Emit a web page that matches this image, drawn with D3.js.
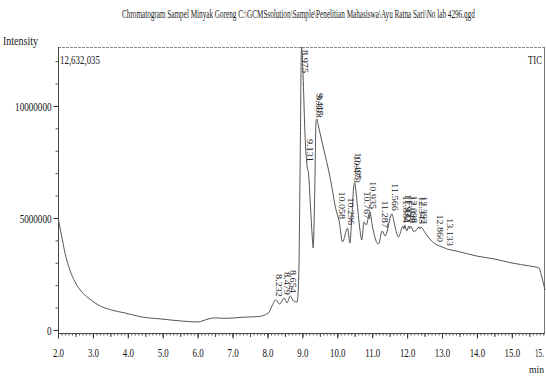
<!DOCTYPE html>
<html>
<head>
<meta charset="utf-8">
<script src="https://cdn.jsdelivr.net/npm/d3@7"></script>
<style>
  body { margin: 0; background: #fff; }
  svg { display: block; }
</style>
</head>
<body>
<div id="chart"></div>
<script>
// Chromatogram data (time in min, intensity in counts)
const titleText = "Chromatogram Sampel  Minyak Goreng C:\\GCMSsolution\\Sample\\Penelitian Mahasiswa\\Ayu Ratna Sari\\No lab 4296.qgd";
const yAxisTitle = "Intensity";
const maxLabel = "12,632,035";
const traceLabel = "TIC";
const xAxisUnit = "min";
const yMax = 12632035;

const retentionTimes = [
  2.00, 2.11, 2.20, 2.34, 2.49, 2.68, 2.87, 3.15, 3.54, 3.92, 4.40, 4.97, 5.54, 6.01, 6.30, 6.50, 6.81, 7.30, 7.73, 8.02, 8.13,
  8.232, 8.35, 8.479, 8.56, 8.654, 8.75, 8.85, 8.90, 8.94, 8.975, 9.02, 9.07, 9.131, 9.18, 9.23, 9.28, 9.31,
  9.35, 9.393, 9.415, 9.46, 9.55, 9.65, 9.75, 9.85, 9.95, 10.058, 10.15, 10.296, 10.36, 10.42, 10.473, 10.495,
  10.56, 10.65, 10.70, 10.767, 10.83, 10.935, 11.00, 11.10, 11.18, 11.287, 11.37, 11.566, 11.65, 11.75,
  11.884, 11.91, 11.932, 11.99, 12.048, 12.07, 12.098, 12.20, 12.343, 12.36, 12.392, 12.50, 12.65, 12.86,
  13.00, 13.133, 13.40, 14.00, 14.50, 15.00, 15.50, 15.78, 15.85, 15.95
];
const intensities = [
  5000000, 4150000, 3440000, 2680000, 2140000, 1700000, 1430000, 1120000, 890000, 760000, 580000, 490000, 400000, 360000, 490000, 540000, 520000, 570000, 600000, 750000, 1070000,
  1340000, 1160000, 1430000, 1210000, 1520000, 1290000, 1250000, 2680000, 8040000, 12632035, 11380000, 8930000, 7370000, 6920000, 5580000, 4240000, 3660000,
  5800000, 9330000, 9420000, 9110000, 8480000, 7810000, 7140000, 6340000, 5450000, 4820000, 3930000, 4550000, 3880000, 5130000, 6430000, 6560000,
  5800000, 4460000, 4020000, 4820000, 4690000, 5270000, 4690000, 4020000, 3840000, 4420000, 4200000, 5180000, 4640000, 4150000,
  4640000, 4510000, 4690000, 4420000, 4640000, 4510000, 4640000, 4380000, 4600000, 4510000, 4600000, 4380000, 4060000, 3790000,
  3710000, 3620000, 3530000, 3300000, 3170000, 2990000, 2860000, 2770000, 2410000, 1790000
];
const peakLabels = [
  "8.232", "8.479", "8.654", "8.975", "9.131", "9.393", "9.415", "10.058", "10.296", "10.473", "10.495",
  "10.767", "10.935", "11.287", "11.566", "11.884", "11.932", "12.048", "12.098", "12.343", "12.392",
  "12.860", "13.133"
];
const xTickLabels = ["2.0", "3.0", "4.0", "5.0", "6.0", "7.0", "8.0", "9.0", "10.0", "11.0", "12.0", "13.0", "14.0", "15.0"];
const xEndLabel = "15.";
const yTickValues = [0, 5000000, 10000000];

const width = 546;
const height = 376;
const plot = { left: 58, right: 545, top: 47, bottom: 333 };
const serif = "'Liberation Serif', 'DejaVu Serif', serif";

const svg = d3.select("#chart")
  .append("svg")
  .attr("width", width)
  .attr("height", height);

// narrow print font of the scan: squeeze text horizontally with a transform
const squeeze = (sel, k) => sel.each(function() {
  const t = d3.select(this);
  t.attr("transform", `${t.attr("transform") || ""} scale(${k},1)`);
});

// free text squeezed to a target width
const label = (str, px, py, size, targetWidth, anchor = "start") => {
  const t = svg.append("text")
    .attr("text-anchor", anchor)
    .attr("font-family", serif)
    .attr("font-size", size)
    .attr("fill", "#1a1a1a")
    .text(str);
  const w = t.node().getComputedTextLength();
  t.attr("transform", `translate(${px},${py}) scale(${targetWidth / w},1)`);
  return t;
};

const x = d3.scaleLinear().domain([2, 15.95]).range([plot.left, plot.right]);
const y = d3.scaleLinear().domain([0, yMax]).range([330, plot.top]);

// Title and corner texts
label(titleText, 122, 18, 13, 353);
label(yAxisTitle, 3, 45, 12, 35);
label(maxLabel, 60, 64, 12, 40);
label(traceLabel, 542, 64, 12, 14, "end");

// Frame
const frame = svg.append("g").attr("stroke", "#444").attr("stroke-width", 1).attr("fill", "none");
frame.append("line")
  .attr("x1", plot.left).attr("x2", plot.right)
  .attr("y1", plot.top + 0.5).attr("y2", plot.top + 0.5)
  .attr("stroke", "#888").attr("stroke-dasharray", "3,1");
frame.append("line")
  .attr("x1", plot.left + 0.5).attr("x2", plot.left + 0.5)
  .attr("y1", plot.top).attr("y2", plot.bottom);
frame.append("line")
  .attr("x1", plot.right - 0.5).attr("x2", plot.right - 0.5)
  .attr("y1", plot.top).attr("y2", plot.bottom)
  .attr("stroke", "#777");
frame.append("line")
  .attr("x1", plot.left).attr("x2", plot.right)
  .attr("y1", plot.bottom + 0.5).attr("y2", plot.bottom + 0.5);

// X axis: minor ticks every 0.1 min, majors every 1 min
const xAxisG = svg.append("g").attr("transform", `translate(0,${plot.bottom + 0.5})`);
const minorTimes = d3.range(20, 160).map(d => d / 10);
xAxisG.append("g")
  .call(d3.axisBottom(x).tickValues(minorTimes).tickSize(2).tickFormat("").tickSizeOuter(0))
  .call(g => g.select(".domain").remove())
  .call(g => g.selectAll("line").attr("stroke", "#555"));
xAxisG.append("g")
  .call(d3.axisBottom(x).tickValues(minorTimes.filter(d => Math.round(d * 10) % 5 === 0)).tickSize(3.5).tickFormat("").tickSizeOuter(0))
  .call(g => g.select(".domain").remove())
  .call(g => g.selectAll("line").attr("stroke", "#444"));
const xMajor = xAxisG.append("g")
  .call(d3.axisBottom(x)
    .tickValues(xTickLabels.map(Number))
    .tickFormat((d, i) => xTickLabels[i])
    .tickSize(5)
    .tickPadding(9)
    .tickSizeOuter(0))
  .call(g => g.select(".domain").remove())
  .call(g => g.selectAll("line").attr("stroke", "#333"));
xMajor.attr("font-family", serif).attr("font-size", 13);
xMajor.selectAll("text").attr("fill", "#111").call(squeeze, 0.68);

label(xEndLabel, 544, 357, 13, 9, "end");
label(xAxisUnit, 544, 373, 11, 15, "end");

// Y axis: minor ticks every 1,000,000, labels at 0 / 5M / 10M
const yAxisG = svg.append("g").attr("transform", `translate(${plot.left + 0.5},0)`);
yAxisG.append("g")
  .call(d3.axisLeft(y).tickValues(d3.range(0, yMax, 1000000)).tickSize(3).tickFormat("").tickSizeOuter(0))
  .call(g => g.select(".domain").remove())
  .call(g => g.selectAll("line").attr("stroke", "#555"));
const yMajor = yAxisG.append("g")
  .call(d3.axisLeft(y).tickValues(yTickValues).tickFormat(d3.format("d")).tickSize(5).tickPadding(2).tickSizeOuter(0))
  .call(g => g.select(".domain").remove())
  .call(g => g.selectAll("line").attr("stroke", "#333"));
yMajor.attr("font-family", serif).attr("font-size", 13);
yMajor.selectAll("text")
  .attr("fill", "#111")
  .attr("x", -7 / 0.7)
  .call(squeeze, 0.7);

// Chromatogram trace
const points = retentionTimes.map((t, i) => [t, intensities[i]]);
const line = d3.line()
  .x(d => x(d[0]))
  .y(d => y(d[1]))
  .curve(d3.curveMonotoneX);

svg.append("path")
  .datum(points)
  .attr("fill", "none")
  .attr("stroke", "#555")
  .attr("stroke-width", 1)
  .attr("d", line);

// Peak retention-time labels, vertical, sitting on the peak
const bisect = d3.bisector(d => d[0]).left;
const valueAt = t => {
  const i = Math.min(Math.max(bisect(points, t), 1), points.length - 1);
  const a = points[i - 1], b = points[i];
  return a[1] + (b[1] - a[1]) * (t - a[0]) / (b[0] - a[0]);
};

svg.append("g")
  .attr("font-family", serif)
  .attr("font-size", 8)
  .attr("fill", "#222")
  .selectAll("text")
  .data(peakLabels)
  .join("text")
  .attr("text-anchor", "end")
  .attr("dy", "0.35em")
  .attr("textLength", d => d.length * 4.6)
  .attr("lengthAdjust", "spacingAndGlyphs")
  .attr("transform", d => {
    const len = d.length * 4.6;
    const py = Math.max(y(valueAt(+d)) - 3, plot.top + len + 3);
    return `translate(${x(+d) + 3},${py}) rotate(90)`;
  })
  .text(d => d);
</script>
</body>
</html>
